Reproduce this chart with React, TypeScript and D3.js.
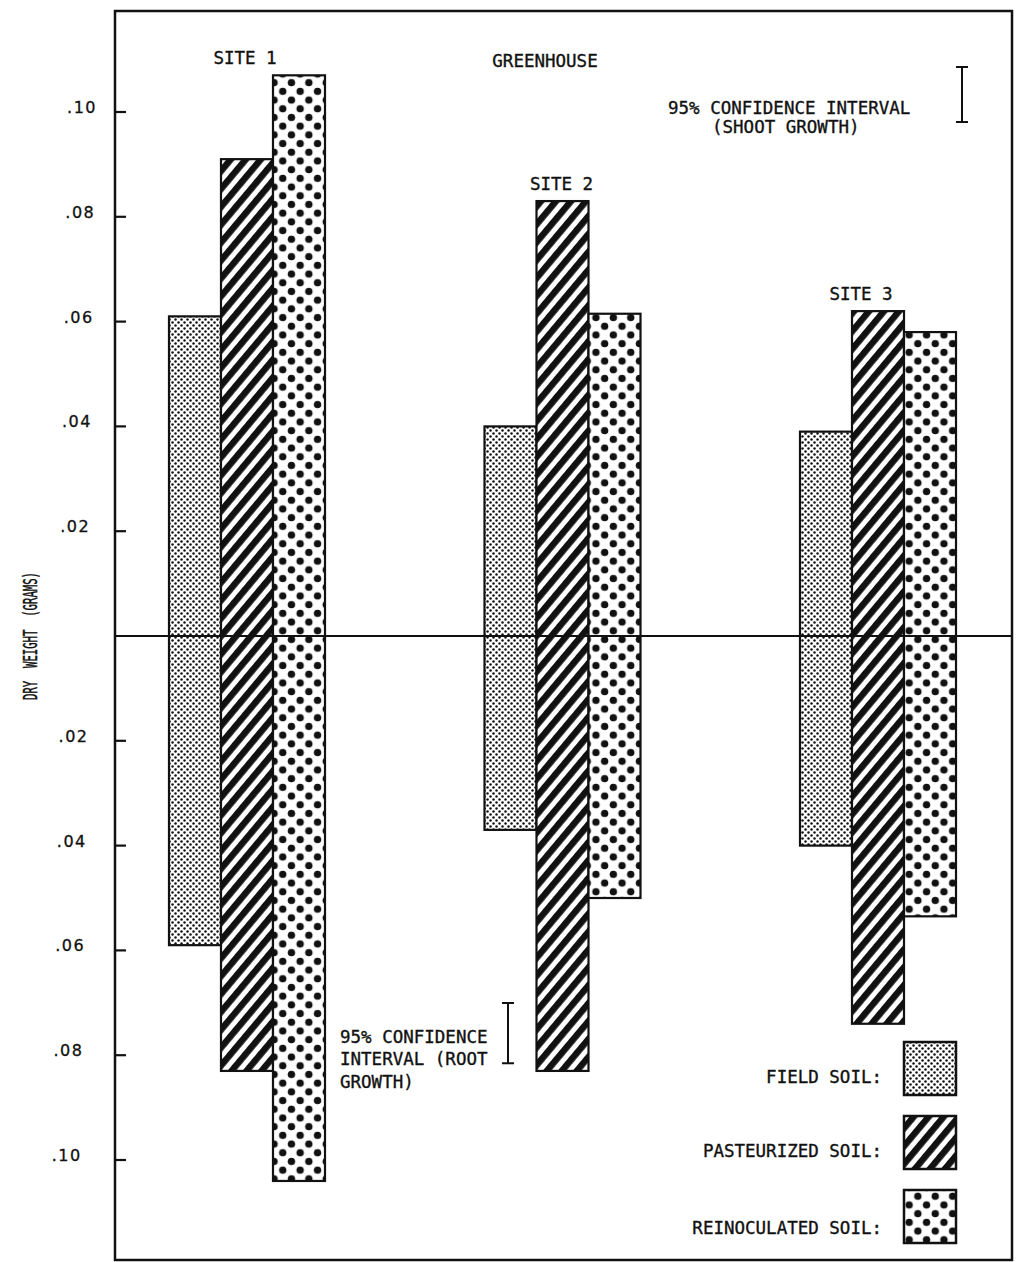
import React, { useEffect, useRef } from "react";
import * as d3 from "d3";

// data (grams)
const sites = ["SITE 1", "SITE 2", "SITE 3"];
const soils = ["FIELD SOIL:", "PASTEURIZED SOIL:", "REINOCULATED SOIL:"];
const shootField = [0.061, 0.040, 0.039];
const shootPasteurized = [0.091, 0.083, 0.062];
const shootReinoculated = [0.107, 0.0615, 0.058];
const rootField = [0.059, 0.037, 0.040];
const rootPasteurized = [0.083, 0.083, 0.074];
const rootReinoculated = [0.104, 0.050, 0.0535];
const tickValues = [0.1, 0.08, 0.06, 0.04, 0.02, -0.02, -0.04, -0.06, -0.08, -0.1];
const ciShoot = 0.0105;
const ciRoot = 0.0115;

const W = 1017;
const H = 1262;
const frame = { left: 115, right: 1012, top: 11, bottom: 1260 };
const mono = "'DejaVu Sans Mono', 'Liberation Mono', monospace";
const patternIds = ["pat-field", "pat-past", "pat-reino"];
const labelDx = [-2, -1, -17];
const ink = "#111";

const App = () => {
  const svgRef = useRef<SVGSVGElement>(null);

  useEffect(() => {
    const svg = d3.select(svgRef.current);
    svg.selectAll("*").remove();

    const shoot = [shootField, shootPasteurized, shootReinoculated];
    const root = [rootField, rootPasteurized, rootReinoculated];

    // Scales
    const y = d3.scaleLinear().domain([-0.1, 0.1]).range([1160, 112]);
    const xSite = d3.scalePoint().domain(sites).range([247, 878]);
    const xSoil = d3.scaleBand().domain(soils).range([-78, 78]).padding(0);

    // typewriter-ish text, slightly heavy like the scan
    const label = (sel: any, size = 17.5) =>
      sel
        .style("font-family", mono)
        .style("font-size", `${size}px`)
        .attr("fill", ink)
        .attr("stroke", ink)
        .attr("stroke-width", 0.35);

    // Patterns
    const defs = svg.append("defs");
    const pf = defs
      .append("pattern")
      .attr("id", patternIds[0])
      .attr("patternUnits", "userSpaceOnUse")
      .attr("width", 6)
      .attr("height", 6);
    pf.append("rect").attr("width", 6).attr("height", 6).attr("fill", "#fff");
    pf.append("circle").attr("cx", 1.5).attr("cy", 1.5).attr("r", 1.25).attr("fill", ink);
    pf.append("circle").attr("cx", 4.5).attr("cy", 4.5).attr("r", 1.25).attr("fill", ink);

    const pp = defs
      .append("pattern")
      .attr("id", patternIds[1])
      .attr("patternUnits", "userSpaceOnUse")
      .attr("width", 11.5)
      .attr("height", 11.5)
      .attr("patternTransform", "rotate(40)");
    pp.append("rect").attr("width", 11.5).attr("height", 11.5).attr("fill", "#fff");
    pp.append("rect").attr("width", 6.5).attr("height", 11.5).attr("fill", ink);

    const pr = defs
      .append("pattern")
      .attr("id", patternIds[2])
      .attr("patternUnits", "userSpaceOnUse")
      .attr("width", 17.4)
      .attr("height", 17.4);
    pr.append("rect").attr("width", 17.4).attr("height", 17.4).attr("fill", "#fff");
    pr.append("circle").attr("cx", 4.35).attr("cy", 4.35).attr("r", 3.7).attr("fill", ink);
    pr.append("circle").attr("cx", 13.05).attr("cy", 13.05).attr("r", 3.7).attr("fill", ink);

    // Bars: shoot above zero, root below
    const bars = svg.append("g");
    sites.forEach((site, i) => {
      soils.forEach((soil, j) => {
        const x0 = (xSite(site) as number) + (xSoil(soil) as number);
        bars
          .append("rect")
          .attr("x", x0)
          .attr("y", y(shoot[j][i]))
          .attr("width", xSoil.bandwidth())
          .attr("height", y(-root[j][i]) - y(shoot[j][i]))
          .attr("fill", `url(#${patternIds[j]})`)
          .attr("stroke", ink)
          .attr("stroke-width", 2.2);
      });
      // Site label
      const top = d3.max(shoot, (s) => s[i]) as number;
      label(
        svg
          .append("text")
          .attr("x", (xSite(site) as number) + labelDx[i])
          .attr("y", y(top) - 11)
          .attr("text-anchor", "middle")
      ).text(site);
    });

    // Frame
    svg
      .append("rect")
      .attr("x", frame.left)
      .attr("y", frame.top)
      .attr("width", frame.right - frame.left)
      .attr("height", frame.bottom - frame.top)
      .attr("fill", "none")
      .attr("stroke", ink)
      .attr("stroke-width", 2.5);

    // Zero line
    svg
      .append("line")
      .attr("x1", frame.left)
      .attr("x2", frame.right)
      .attr("y1", y(0))
      .attr("y2", y(0))
      .attr("stroke", ink)
      .attr("stroke-width", 2.2);

    // Ticks + labels (inside-pointing ticks)
    const ticks = svg.append("g");
    tickValues.forEach((v, k) => {
      ticks
        .append("line")
        .attr("x1", frame.left)
        .attr("x2", frame.left + 11)
        .attr("y1", y(v))
        .attr("y2", y(v))
        .attr("stroke", ink)
        .attr("stroke-width", 2.2);
      ticks
        .append("text")
        .attr("x", 97 - k * 1.7)
        .attr("y", y(v) + 1)
        .attr("text-anchor", "end")
        .style("font-family", "'DejaVu Sans', sans-serif")
        .style("font-size", "16px")
        .style("letter-spacing", "1.5px")
        .attr("fill", ink)
        .attr("stroke", ink)
        .attr("stroke-width", 0.3)
        .text(d3.format(".2f")(Math.abs(v)).replace(/^0/, ""));
    });

    // Y axis title (condensed typewriter look)
    label(
      svg
        .append("text")
        .attr("transform", `translate(37,636) rotate(-90) scale(0.56,1)`)
        .attr("text-anchor", "middle")
        .style("white-space", "pre"),
      19
    )
      .attr("stroke-width", 0.5)
      .text("DRY  WEIGHT  (GRAMS)");

    // Title
    label(svg.append("text").attr("x", 545).attr("y", 67).attr("text-anchor", "middle")).text(
      "GREENHOUSE"
    );

    const ciBar = (cx: number, yTop: number, len: number) => {
      const y1 = yTop + (y(0) - y(len));
      const g = svg.append("g").attr("stroke", ink).attr("stroke-width", 2);
      g.append("line").attr("x1", cx).attr("x2", cx).attr("y1", yTop).attr("y2", y1);
      g.append("line").attr("x1", cx - 6).attr("x2", cx + 6).attr("y1", yTop).attr("y2", yTop);
      g.append("line").attr("x1", cx - 6).attr("x2", cx + 6).attr("y1", y1).attr("y2", y1);
    };

    // Shoot confidence interval
    ciBar(962, 67, ciShoot);
    const shootTxt = label(svg.append("text"));
    shootTxt.append("tspan").attr("x", 668).attr("y", 114).text("95% CONFIDENCE INTERVAL");
    shootTxt.append("tspan").attr("x", 712).attr("y", 133).text("(SHOOT GROWTH)");

    // Root confidence interval
    ciBar(508, 1003, ciRoot);
    const rootTxt = label(svg.append("text"));
    rootTxt.append("tspan").attr("x", 340).attr("y", 1043).text("95% CONFIDENCE");
    rootTxt.append("tspan").attr("x", 340).attr("y", 1065).text("INTERVAL (ROOT");
    rootTxt.append("tspan").attr("x", 340).attr("y", 1088).text("GROWTH)");

    // Legend
    const legend = svg.append("g");
    soils.forEach((soil, j) => {
      const ly = 1042 + j * 74;
      legend
        .append("rect")
        .attr("x", 904)
        .attr("y", ly)
        .attr("width", 52)
        .attr("height", 53)
        .attr("fill", `url(#${patternIds[j]})`)
        .attr("stroke", ink)
        .attr("stroke-width", 2.5);
      label(
        legend
          .append("text")
          .attr("x", 882)
          .attr("y", ly + 41 + (j === 2 ? 3 : 0))
          .attr("text-anchor", "end")
      ).text(soil);
    });
  }, []);

  return (
    <svg
      ref={svgRef}
      width={W}
      height={H}
      style={{ position: "absolute", left: 0, top: 0, background: "#fff" }}
    ></svg>
  );
};

export default App;
